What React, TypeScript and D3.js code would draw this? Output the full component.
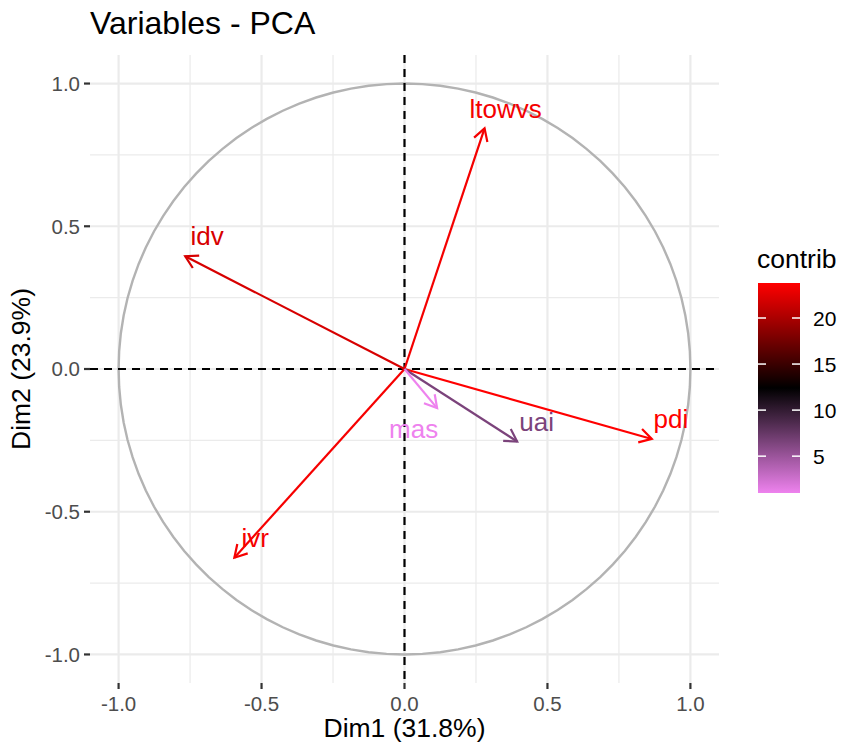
import React from "react";
import * as d3 from "d3";

const variables = ["ltowvs", "idv", "ivr", "pdi", "uai", "mas"];
const dim1 = [0.28, -0.767, -0.595, 0.865, 0.394, 0.114];
const dim2 = [0.843, 0.395, -0.661, -0.245, -0.254, -0.137];
const contrib = [23.3, 22.0, 23.4, 23.8, 6.5, 1.0];
const labelX = [0.354, -0.69, -0.522, 0.932, 0.462, 0.032];
const labelY = [0.881, 0.434, -0.622, -0.206, -0.217, -0.241];
const majorTicks = [-1.0, -0.5, 0.0, 0.5, 1.0];
const minorTicks = [-0.75, -0.25, 0.25, 0.75];
const legendTicks = [5, 10, 15, 20];
const gradientColors = ["#EE82EE", "#000000", "#FF0000"];

const FONT = "'Liberation Sans', Arial, sans-serif";
const fmt = (t: number) => t.toFixed(1);

export default function App() {
  const W = 841, H = 746;
  const pl = 90, pr = 719, pt = 55, pb = 683;
  const x = d3.scaleLinear().domain([-1.1, 1.1]).range([pl, pr]);
  const y = d3.scaleLinear().domain([-1.1, 1.1]).range([pb, pt]);
  const cmin = d3.min(contrib) as number;
  const cmax = d3.max(contrib) as number;
  const color = d3
    .scaleLinear<string>()
    .domain([cmin, (cmin + cmax) / 2, cmax])
    .range(gradientColors)
    .interpolate(d3.interpolateRgb);

  const circle = d3.range(0, 101).map((i) => {
    const a = (i / 100) * Math.PI * 2;
    return [Math.cos(a), Math.sin(a)] as [number, number];
  });
  const circleLine = d3
    .line<[number, number]>()
    .x((d) => x(d[0]))
    .y((d) => y(d[1]));

  const legTop = 283, legBot = 493, legL = 758, legR = 800;
  const ly = d3.scaleLinear().domain([cmin, cmax]).range([legBot, legTop]);
  const stops = d3.range(0, 21).map((i) => {
    const v = cmin + ((cmax - cmin) * i) / 20;
    return { off: i / 20, c: color(v) };
  });

  const headLen = 14;
  const headAng = Math.PI / 6;

  return (
    <svg width={W} height={H} style={{ display: "block", position: "absolute", left: 0, top: 0 }} fontFamily={FONT}>
      <rect width={W} height={H} fill="#fff" />
      <defs>
        <linearGradient id="lg" x1="0" y1="1" x2="0" y2="0">
          {stops.map((s, i) => (
            <stop key={i} offset={s.off} stopColor={s.c} />
          ))}
        </linearGradient>
      </defs>
      {/* grid */}
      {minorTicks.map((t) => (
        <g key={"m" + t}>
          <line x1={x(t)} x2={x(t)} y1={pt} y2={pb} stroke="#EBEBEB" strokeWidth={1.2} />
          <line x1={pl} x2={pr} y1={y(t)} y2={y(t)} stroke="#EBEBEB" strokeWidth={1.2} />
        </g>
      ))}
      {majorTicks.map((t) => (
        <g key={"M" + t}>
          <line x1={x(t)} x2={x(t)} y1={pt} y2={pb} stroke="#EBEBEB" strokeWidth={2.2} />
          <line x1={pl} x2={pr} y1={y(t)} y2={y(t)} stroke="#EBEBEB" strokeWidth={2.2} />
        </g>
      ))}
      {/* circle */}
      <path d={circleLine(circle) || ""} fill="none" stroke="#B3B3B3" strokeWidth={2.4} />
      {/* dashed axes */}
      <line x1={pl} x2={pr} y1={y(0)} y2={y(0)} stroke="#000" strokeWidth={2.2} strokeDasharray="8 6" />
      <line x1={x(0)} x2={x(0)} y1={pt} y2={pb} stroke="#000" strokeWidth={2.2} strokeDasharray="8 6" />
      {/* arrows */}
      {variables.map((v, i) => {
        const x0 = x(0), y0 = y(0);
        const x1 = x(dim1[i]), y1 = y(dim2[i]);
        const ang = Math.atan2(y1 - y0, x1 - x0);
        const a1 = ang + Math.PI - headAng;
        const a2 = ang + Math.PI + headAng;
        const c = color(contrib[i]);
        return (
          <g key={v} stroke={c} strokeWidth={2.2} fill="none" strokeLinecap="butt">
            <line x1={x0} y1={y0} x2={x1} y2={y1} />
            <polyline
              points={`${x1 + headLen * Math.cos(a1)},${y1 + headLen * Math.sin(a1)} ${x1},${y1} ${x1 + headLen * Math.cos(a2)},${y1 + headLen * Math.sin(a2)}`}
              strokeLinejoin="miter"
            />
          </g>
        );
      })}
      {/* labels */}
      {variables.map((v, i) => (
        <text key={"t" + v} x={x(labelX[i])} y={y(labelY[i])} textAnchor="middle" fontSize={26} fill={color(contrib[i])}>
          {v}
        </text>
      ))}
      {/* axes ticks */}
      {majorTicks.map((t) => (
        <g key={"xt" + t}>
          <line x1={x(t)} x2={x(t)} y1={pb} y2={pb + 6} stroke="#333" strokeWidth={2.2} />
          <text x={x(t)} y={pb + 28} textAnchor="middle" fontSize={20.5} fill="#4D4D4D">
            {fmt(t)}
          </text>
          <line x1={pl - 6} x2={pl} y1={y(t)} y2={y(t)} stroke="#333" strokeWidth={2.2} />
          <text x={pl - 10} y={y(t)} dy="0.36em" textAnchor="end" fontSize={20.5} fill="#4D4D4D">
            {fmt(t)}
          </text>
        </g>
      ))}
      {/* axis titles */}
      <text x={(pl + pr) / 2} y={737} textAnchor="middle" fontSize={26.5} fill="#000">
        Dim1 (31.8%)
      </text>
      <text transform={`translate(30, ${(pt + pb) / 2}) rotate(-90)`} textAnchor="middle" fontSize={26.5} fill="#000">
        Dim2 (23.9%)
      </text>
      {/* title */}
      <text x={pl} y={34} fontSize={32} fill="#000">
        Variables - PCA
      </text>
      {/* legend */}
      <text x={legL - 1} y={268} fontSize={26.5} fill="#000">
        contrib
      </text>
      <rect x={legL} y={legTop} width={legR - legL} height={legBot - legTop} fill="url(#lg)" />
      {legendTicks.map((t) => (
        <g key={"lt" + t}>
          <line x1={legL} x2={legL + 8} y1={ly(t)} y2={ly(t)} stroke="#fff" strokeWidth={1.5} />
          <line x1={legR - 8} x2={legR} y1={ly(t)} y2={ly(t)} stroke="#fff" strokeWidth={1.5} />
          <text x={legR + 13} y={ly(t)} dy="0.36em" fontSize={21} fill="#000">
            {t}
          </text>
        </g>
      ))}
    </svg>
  );
}
